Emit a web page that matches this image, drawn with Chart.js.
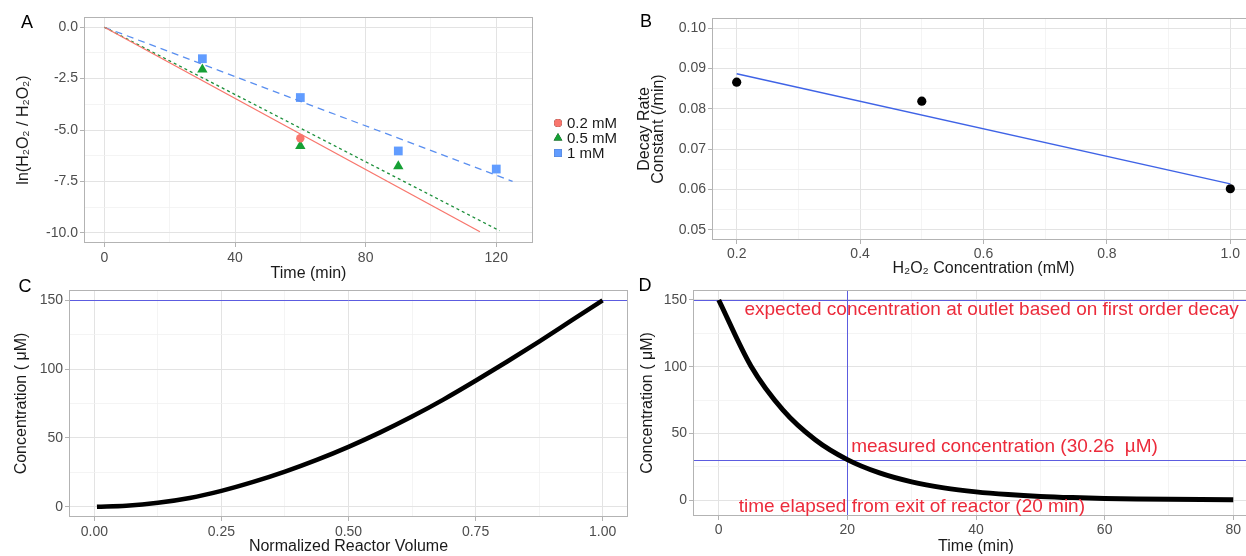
<!DOCTYPE html>
<html><head><meta charset="utf-8">
<script src="https://cdn.jsdelivr.net/npm/chart.js@4"></script>
<style>
html,body{margin:0;padding:0;background:#fff;overflow:hidden;width:1246px;height:556px;}
canvas{position:absolute;}
</style></head>
<body>
<canvas id="cA" width="640" height="285" style="left:0;top:0"></canvas>
<canvas id="cB" width="660" height="285" style="left:620px;top:0"></canvas>
<canvas id="cC" width="640" height="291" style="left:0;top:265px"></canvas>
<canvas id="cD" width="650" height="291" style="left:630px;top:265px"></canvas>
<script>
// ---------------- DATA ----------------
// Panel A: ln(H2O2/H2O2_0) vs time
const aSeriesNames = ['0.2 mM', '0.5 mM', '1 mM'];
const aTime02 = [60];
const aLn02   = [-5.4];
const aTime05 = [30, 60, 90];
const aLn05   = [-2.06, -5.78, -6.76];
const aTime1  = [30, 60, 90, 120];
const aLn1    = [-1.53, -3.42, -6.02, -6.9];
const aFitX02 = [0, 115];  const aFitY02 = [0, -9.95];
const aFitX05 = [0, 121];  const aFitY05 = [0, -9.9];
const aFitX1  = [0, 125];  const aFitY1  = [0, -7.5];
const aXMajor = [0, 40, 80, 120];           const aXMinor = [20, 60, 100];
const aXLabels = ['0', '40', '80', '120'];
const aYMajor = [-10, -7.5, -5, -2.5, 0];   const aYMinor = [-8.75, -6.25, -3.75, -1.25];
const aYLabels = ['-10.0', '-7.5', '-5.0', '-2.5', '0.0'];

// Panel B: decay rate constant vs concentration
const bConc = [0.2, 0.5, 1.0];
const bRate = [0.0866, 0.0819, 0.0602];
const bFitX = [0.2, 1.0];
const bFitY = [0.0887, 0.0614];
const bXMajor = [0.2, 0.4, 0.6, 0.8, 1.0];  const bXMinor = [0.3, 0.5, 0.7, 0.9];
const bXLabels = ['0.2', '0.4', '0.6', '0.8', '1.0'];
const bYMajor = [0.05, 0.06, 0.07, 0.08, 0.09, 0.10];
const bYMinor = [0.055, 0.065, 0.075, 0.085, 0.095];
const bYLabels = ['0.05', '0.06', '0.07', '0.08', '0.09', '0.10'];

// Panel C: concentration along normalized reactor volume
const cVolume = [0.005, 0.0625, 0.125, 0.1875, 0.25, 0.3125, 0.375, 0.4375, 0.5,
                 0.5625, 0.625, 0.6875, 0.75, 0.8125, 0.875, 0.9375, 1.0];
const cConc   = [0, 0.7, 2.8, 6.3, 11.5, 18, 25.5, 34, 43.5,
                 54, 65.5, 78, 91.5, 105.5, 120, 135, 150];
const cHline = [150];
const cXMajor = [0, 0.25, 0.5, 0.75, 1.0];  const cXMinor = [0.125, 0.375, 0.625, 0.875];
const cXLabels = ['0.00', '0.25', '0.50', '0.75', '1.00'];
const cYMajor = [0, 50, 100, 150];           const cYMinor = [25, 75, 125];
const cYLabels = ['0', '50', '100', '150'];

// Panel D: decay after reactor exit
const dTime = [0, 5, 10, 15, 20, 25, 30, 35, 40, 45, 50, 55, 60, 65, 70, 75, 80];
const dConc = [150, 100.5, 67.4, 45.2, 30.3, 20.3, 13.6, 9.1, 6.1, 4.1, 2.7, 1.8, 1.2, 0.8, 0.55, 0.37, 0.25];
const dHline = [150, 30.26];
const dVline = [20];
const dNoteText = ['expected concentration at outlet based on first order decay',
                   'measured concentration (30.26  \u00B5M)',
                   'time elapsed from exit of reactor (20 min)'];
const dNoteX = [4, 20.6, 3.1];
const dNoteY = [142.5, 40, -5.3];
const dXMajor = [0, 20, 40, 60, 80];         const dXMinor = [10, 30, 50, 70];
const dXLabels = ['0', '20', '40', '60', '80'];
const dYMajor = [0, 50, 100, 150];           const dYMinor = [25, 75, 125];
const dYLabels = ['0', '50', '100', '150'];

// ---------------- STYLE ----------------
const FONT = "'Liberation Sans', Arial, sans-serif";
Chart.defaults.font.family = FONT;
Chart.defaults.color = '#4d4d4d';
Chart.defaults.animation = false;
const GRID_MAJOR = '#e3e3e3';
const GRID_MINOR = '#f1f1f1';
const BORDER = '#b3b3b3';
const TICK_FONT = 14;
const TITLE_FONT = 16;

function pts(xs, ys) { return xs.map((x, i) => ({x: x, y: ys[i]})); }

function makeTicks(major, minor, labels) {
  const t = major.map((v, i) => ({value: v, lbl: labels[i], minor: false}))
    .concat(minor.map(v => ({value: v, lbl: '', minor: true})));
  t.sort((a, b) => a.value - b.value);
  return t;
}

function axis(o) {
  const isX = o.axis === 'x';
  const tk = makeTicks(o.major, o.minor, o.labels);
  return {
    type: 'linear',
    position: isX ? 'bottom' : 'left',
    min: o.min, max: o.max,
    afterBuildTicks: s => { s.ticks = tk.map(t => Object.assign({}, t)); },
    afterFit: s => {
      if (isX) s.height = o.size; else s.width = o.size;
      s.paddingLeft = 0; s.paddingRight = 0; s.paddingTop = 0; s.paddingBottom = 0;
    },
    ticks: {
      autoSkip: false, maxRotation: 0, minRotation: 0,
      padding: o.tickPad, color: '#4d4d4d', font: {size: TICK_FONT},
      callback: (v, i, ticks) => ticks[i].lbl
    },
    grid: {
      color: c => (c.tick && c.tick.minor) ? GRID_MINOR : GRID_MAJOR,
      lineWidth: c => (c.tick && c.tick.minor) ? 0.8 : 1,
      tickColor: c => (c.tick && c.tick.minor) ? 'rgba(0,0,0,0)' : BORDER,
      tickLength: 4
    },
    border: {display: false},
    title: {
      display: true, text: o.title, color: '#1a1a1a',
      font: {size: o.titleSize || TITLE_FONT, lineHeight: o.titleLH || 1.2},
      padding: o.titlePad
    }
  };
}

const framePlugin = {
  id: 'frame',
  afterDatasetsDraw(chart, args, opts) {
    const ctx = chart.ctx, a = chart.chartArea;
    ctx.save();
    ctx.strokeStyle = BORDER; ctx.lineWidth = 1;
    ctx.strokeRect(Math.round(a.left) + 0.5, Math.round(a.top) + 0.5,
                   Math.round(a.right - a.left) - 1, Math.round(a.bottom - a.top) - 1);
    ctx.restore();
  },
  afterDraw(chart, args, opts) {
    if (!opts || !opts.tag) return;
    const ctx = chart.ctx;
    ctx.save();
    ctx.fillStyle = '#000';
    ctx.font = '18px ' + FONT;
    ctx.textAlign = 'center'; ctx.textBaseline = 'middle';
    ctx.fillText(opts.tag, opts.tx, opts.ty);
    ctx.restore();
  }
};

const refLinePlugin = {
  id: 'reflines',
  beforeDatasetsDraw(chart, args, opts) {
    if (!opts || (!opts.h && !opts.v)) return;
    const ctx = chart.ctx, a = chart.chartArea, xs = chart.scales.x, ys = chart.scales.y;
    ctx.save();
    ctx.strokeStyle = '#5c5ce0'; ctx.lineWidth = 1;
    (opts.h || []).forEach(v => {
      const y = Math.round(ys.getPixelForValue(v)) + 0.5;
      ctx.beginPath(); ctx.moveTo(a.left, y); ctx.lineTo(a.right, y); ctx.stroke();
    });
    (opts.v || []).forEach(v => {
      const x = Math.round(xs.getPixelForValue(v)) + 0.5;
      ctx.beginPath(); ctx.moveTo(x, a.top); ctx.lineTo(x, a.bottom); ctx.stroke();
    });
    ctx.restore();
  },
  afterDatasetsDraw(chart, args, opts) {
    if (!opts || !opts.notes) return;
    const ctx = chart.ctx, xs = chart.scales.x, ys = chart.scales.y;
    ctx.save();
    ctx.fillStyle = '#ec2b3b';
    ctx.font = opts.noteSize + 'px ' + FONT;
    ctx.textAlign = 'left'; ctx.textBaseline = 'middle';
    opts.notes.text.forEach((t, i) => {
      ctx.fillText(t, xs.getPixelForValue(opts.notes.x[i]), ys.getPixelForValue(opts.notes.y[i]));
    });
    ctx.restore();
  }
};

const legendPlugin = {
  id: 'customLegend',
  afterDraw(chart, args, opts) {
    if (!opts || !opts.items) return;
    const ctx = chart.ctx;
    ctx.save();
    opts.items.forEach((it, i) => {
      const y = opts.y + i * opts.gap;
      Chart.helpers.drawPoint(ctx, {pointStyle: it.style, radius: it.r, rotation: 0, borderWidth: 0},
                              opts.x, y);
      ctx.fillStyle = it.color; ctx.fill();
      ctx.fillStyle = '#1a1a1a';
      ctx.font = opts.size + 'px ' + FONT;
      ctx.textAlign = 'left'; ctx.textBaseline = 'middle';
      ctx.fillText(it.label, opts.x + 9, y + 1);
    });
    ctx.restore();
  }
};

Chart.register(framePlugin, refLinePlugin, legendPlugin);

const RED = '#F8766D', GREEN = '#16a035', BLUE = '#619CFF';

// ---------------- PANEL A ----------------
new Chart(document.getElementById('cA'), {
  type: 'scatter',
  data: {
    datasets: [
      {label: aSeriesNames[0] + ' fit', data: pts(aFitX02, aFitY02), showLine: true, pointRadius: 0,
       borderColor: RED, borderWidth: 1.3},
      {label: aSeriesNames[1] + ' fit', data: pts(aFitX05, aFitY05), showLine: true, pointRadius: 0,
       borderColor: '#1c8f3a', borderWidth: 1.3, borderDash: [3, 3]},
      {label: aSeriesNames[2] + ' fit', data: pts(aFitX1, aFitY1), showLine: true, pointRadius: 0,
       borderColor: '#5a8ff0', borderWidth: 1.3, borderDash: [7, 5]},
      {label: aSeriesNames[0], data: pts(aTime02, aLn02), pointStyle: 'circle', pointRadius: 4.2,
       backgroundColor: RED, borderWidth: 0},
      {label: aSeriesNames[1], data: pts(aTime05, aLn05), pointStyle: 'triangle', pointRadius: 6,
       backgroundColor: GREEN, borderWidth: 0},
      {label: aSeriesNames[2], data: pts(aTime1, aLn1), pointStyle: 'rect', pointRadius: 6.2,
       backgroundColor: BLUE, borderWidth: 0}
    ]
  },
  options: {
    responsive: false, devicePixelRatio: 1,
    layout: {autoPadding: false, padding: {top: 17, right: 107, left: 0, bottom: 0}},
    scales: {
      x: axis({axis: 'x', min: -6.25, max: 131.25, major: aXMajor, minor: aXMinor, labels: aXLabels,
               size: 42, tickPad: 3, title: 'Time (min)', titlePad: {top: 0, bottom: 2}}),
      y: axis({axis: 'y', min: -10.5, max: 0.5, major: aYMajor, minor: aYMinor, labels: aYLabels,
               size: 84, tickPad: 2, title: 'ln(H\u2082O\u2082 / H\u2082O\u2082)', titlePad: {top: 14, bottom: 0}})
    },
    plugins: {
      legend: {display: false}, tooltip: {enabled: false},
      frame: {tag: 'A', tx: 27, ty: 23},
      customLegend: {x: 558, y: 123, gap: 15, size: 15, items: [
        {label: aSeriesNames[0], style: 'circle', r: 4, color: RED},
        {label: aSeriesNames[1], style: 'triangle', r: 5, color: GREEN},
        {label: aSeriesNames[2], style: 'rect', r: 5.5, color: BLUE}
      ]}
    }
  }
});

// ---------------- PANEL B ----------------
new Chart(document.getElementById('cB'), {
  type: 'scatter',
  data: {
    datasets: [
      {label: 'fit', data: pts(bFitX, bFitY), showLine: true, pointRadius: 0,
       borderColor: '#3f63e6', borderWidth: 1.4},
      {label: 'k', data: pts(bConc, bRate), pointStyle: 'circle', pointRadius: 4.6,
       backgroundColor: '#000', borderWidth: 0}
    ]
  },
  options: {
    responsive: false, devicePixelRatio: 1,
    layout: {autoPadding: false, padding: {top: 18, right: 25, left: 0, bottom: 0}},
    scales: {
      x: axis({axis: 'x', min: 0.16, max: 1.04, major: bXMajor, minor: bXMinor, labels: bXLabels,
               size: 45, tickPad: 2, title: 'H\u2082O\u2082 Concentration (mM)', titlePad: {top: 0, bottom: 7}}),
      y: axis({axis: 'y', min: 0.0475, max: 0.1025, major: bYMajor, minor: bYMinor, labels: bYLabels,
               size: 92, tickPad: 2, title: ['Decay Rate', 'Constant (/min)'], titleLH: 0.9,
               titlePad: {top: 17, bottom: 0}})
    },
    plugins: {
      legend: {display: false}, tooltip: {enabled: false},
      frame: {tag: 'B', tx: 26, ty: 22}
    }
  }
});

// ---------------- PANEL C ----------------
new Chart(document.getElementById('cC'), {
  type: 'scatter',
  data: {
    datasets: [
      {label: 'C', data: pts(cVolume, cConc), showLine: true, pointRadius: 0,
       borderColor: '#000', borderWidth: 4.5, cubicInterpolationMode: 'monotone'}
    ]
  },
  options: {
    responsive: false, devicePixelRatio: 1,
    layout: {autoPadding: false, padding: {top: 25, right: 12, left: 0, bottom: 0}},
    scales: {
      x: axis({axis: 'x', min: -0.05, max: 1.05, major: cXMajor, minor: cXMinor, labels: cXLabels,
               size: 39, tickPad: 3, title: 'Normalized Reactor Volume', titlePad: {top: 0, bottom: 0}}),
      y: axis({axis: 'y', min: -7.5, max: 157.5, major: cYMajor, minor: cYMinor, labels: cYLabels,
               size: 69, tickPad: 2, title: 'Concentration ( \u03BCM)', titlePad: {top: 12, bottom: 0}})
    },
    plugins: {
      legend: {display: false}, tooltip: {enabled: false},
      frame: {tag: 'C', tx: 25, ty: 22},
      reflines: {h: cHline}
    }
  }
});

// ---------------- PANEL D ----------------
new Chart(document.getElementById('cD'), {
  type: 'scatter',
  data: {
    datasets: [
      {label: 'D', data: pts(dTime, dConc), showLine: true, pointRadius: 0,
       borderColor: '#000', borderWidth: 5, cubicInterpolationMode: 'monotone'}
    ]
  },
  options: {
    responsive: false, devicePixelRatio: 1,
    layout: {autoPadding: false, padding: {top: 25, right: 21, left: 0, bottom: 0}},
    scales: {
      x: axis({axis: 'x', min: -4, max: 84, major: dXMajor, minor: dXMinor, labels: dXLabels,
               size: 40, tickPad: 2, title: 'Time (min)', titlePad: {top: 0, bottom: 0}}),
      y: axis({axis: 'y', min: -12, max: 157.5, major: dYMajor, minor: dYMinor, labels: dYLabels,
               size: 63, tickPad: 2, title: 'Concentration ( \u03BCM)', titlePad: {top: 8, bottom: 0}})
    },
    plugins: {
      legend: {display: false}, tooltip: {enabled: false},
      frame: {tag: 'D', tx: 15, ty: 21},
      reflines: {h: dHline, v: dVline, noteSize: 19,
                 notes: {text: dNoteText, x: dNoteX, y: dNoteY}}
    }
  }
});
</script>
</body></html>
